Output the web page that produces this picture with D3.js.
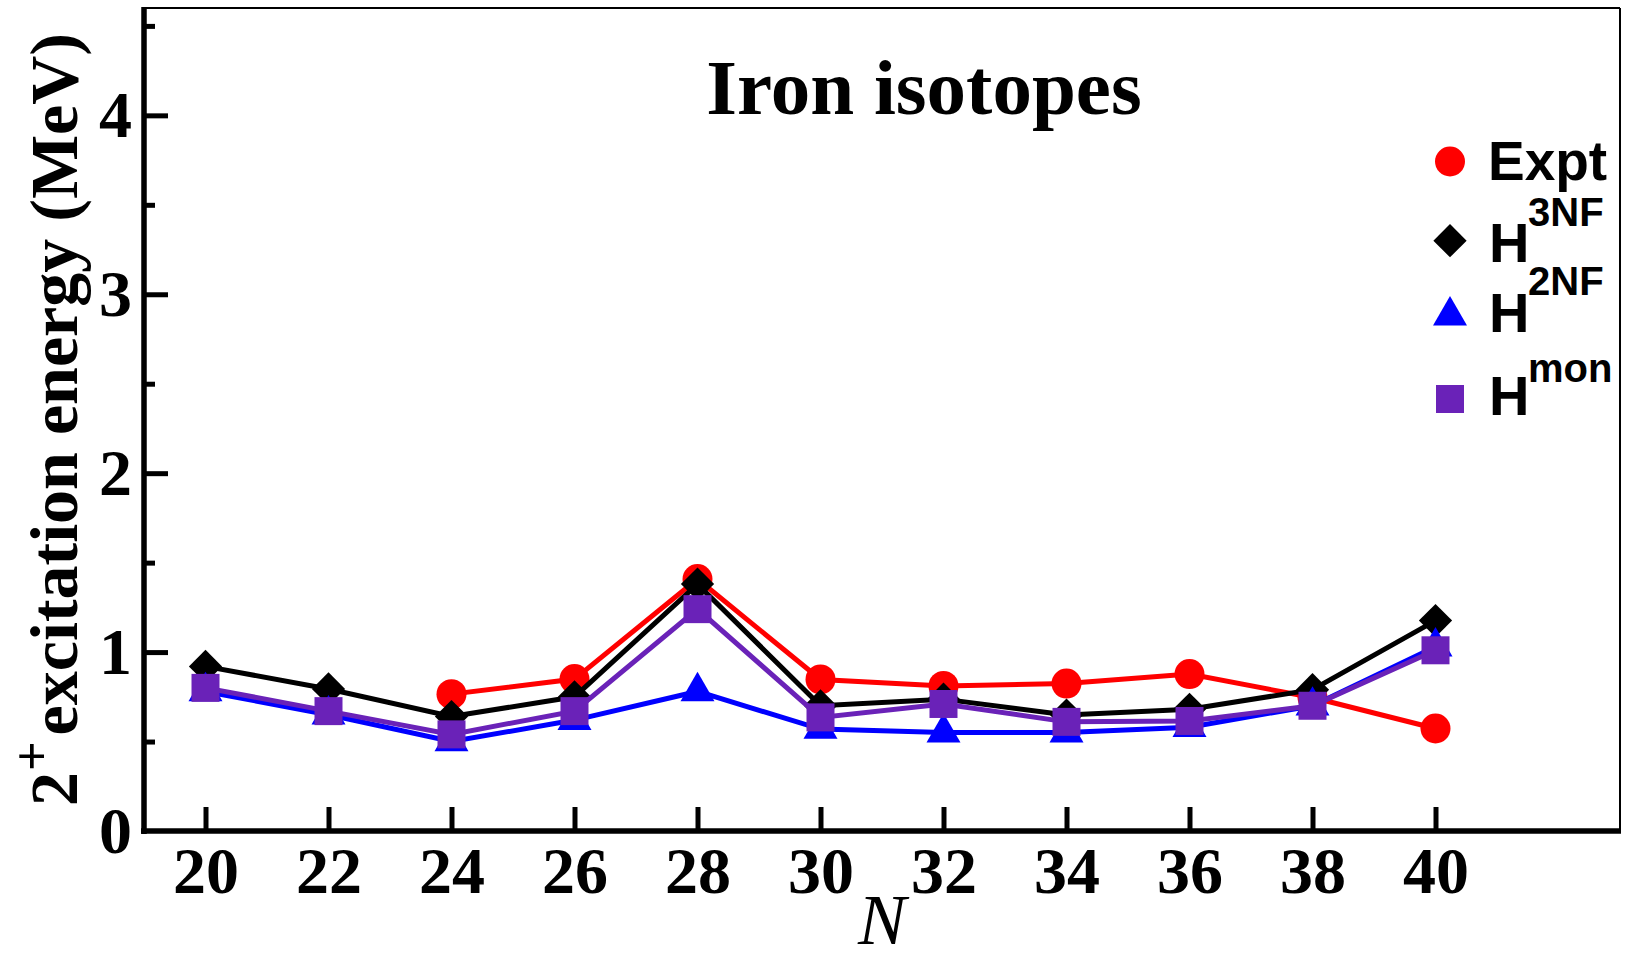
<!DOCTYPE html>
<html>
<head>
<meta charset="utf-8">
<script src="https://cdn.jsdelivr.net/npm/d3@7"></script>
<style>
  html, body { margin: 0; padding: 0; background: #fff; }
  svg { display: block; }
  .serif { font-family: "Liberation Serif", "Times New Roman", serif; font-weight: bold; }
  .sans { font-family: "Liberation Sans", Arial, sans-serif; font-weight: bold; }
</style>
</head>
<body>
<svg id="chart" width="1632" height="959"></svg>
<script>
// ---- data ----
const neutrons = [20, 22, 24, 26, 28, 30, 32, 34, 36, 38, 40];
const exptN    = [24, 26, 28, 30, 32, 34, 36, 38, 40];
const expt     = [0.765, 0.849, 1.408, 0.847, 0.811, 0.824, 0.877, 0.746, 0.573];
const h3nf     = [0.92, 0.794, 0.64, 0.75, 1.38, 0.70, 0.737, 0.648, 0.68, 0.79, 1.176];
const h2nf     = [0.78, 0.65, 0.50, 0.62, 0.78, 0.57, 0.55, 0.55, 0.58, 0.70, 1.03];
const hmon     = [0.80, 0.67, 0.54, 0.67, 1.24, 0.635, 0.71, 0.61, 0.615, 0.70, 1.01];
const xTicks   = [20, 22, 24, 26, 28, 30, 32, 34, 36, 38, 40];
const yMajor   = [0, 1, 2, 3, 4];
const yMinor   = [0.5, 1.5, 2.5, 3.5, 4.5];
const titleText = "Iron isotopes";

// ---- layout ----
const svg = d3.select("#chart");
const L = 144, R = 1620, T = 8, B = 831;
const x = d3.scaleLinear().domain([19, 43]).range([L, R]);
const y = d3.scaleLinear().domain([0, 4.6]).range([B, T]);

svg.append("rect").attr("width", 1632).attr("height", 959).attr("fill", "#fff");

// ---- series ----
const series = [
  { name: "Expt", xs: exptN, ys: expt, color: "#ff0000", shape: "circle" },
  { name: "3NF",  xs: neutrons, ys: h3nf, color: "#000000", shape: "diamond" },
  { name: "2NF",  xs: neutrons, ys: h2nf, color: "#0000ff", shape: "triangle" },
  { name: "mon",  xs: neutrons, ys: hmon, color: "#6a22b8", shape: "square" }
];
const symbols = {
  circle:   d3.symbol().type(d3.symbolCircle).size(Math.PI * 15 * 15),
  diamond:  d3.symbol().type(d3.symbolSquare).size(23.5 * 23.5),
  triangle: d3.symbol().type(d3.symbolTriangle).size(500),
  square:   d3.symbol().type(d3.symbolSquare).size(28 * 28)
};
const line = d3.line().x(d => x(d[0])).y(d => y(d[1]));

const plot = svg.append("g");
series.forEach(s => {
  const pts = s.xs.map((n, i) => [n, s.ys[i]]);
  const g = plot.append("g");
  g.append("path").attr("d", line(pts)).attr("fill", "none")
    .attr("stroke", s.color).attr("stroke-width", 5).attr("stroke-linejoin", "miter");
  g.selectAll("path.m").data(pts).join("path").attr("class", "m")
    .attr("d", symbols[s.shape]())
    .attr("transform", d => `translate(${x(d[0])},${y(d[1])})` + (s.shape === "diamond" ? " rotate(45)" : ""))
    .attr("fill", s.color);
});

// ---- axes ----
const xAxis = d3.axisBottom(x).tickValues(xTicks).tickFormat(d3.format("d"))
  .tickSizeInner(-24).tickSizeOuter(0).tickPadding(15);
const gx = svg.append("g").attr("transform", `translate(0,${B})`).call(xAxis);
gx.select(".domain").remove();
gx.selectAll(".tick line").attr("stroke", "#000").attr("stroke-width", 5);
gx.selectAll(".tick text").attr("class", "serif").attr("font-size", 66).attr("fill", "#000");

const yAxis = d3.axisLeft(y).tickValues(yMajor).tickFormat(d3.format("d"))
  .tickSizeInner(-24).tickSizeOuter(0).tickPadding(12);
const gy = svg.append("g").attr("transform", `translate(${L},0)`).call(yAxis);
gy.select(".domain").remove();
gy.selectAll(".tick line").attr("stroke", "#000").attr("stroke-width", 5)
  .filter(d => d === 0).remove();
gy.selectAll(".tick text").attr("class", "serif").attr("font-size", 66).attr("fill", "#000");

const yAxisMinor = d3.axisLeft(y).tickValues(yMinor).tickFormat("").tickSizeInner(-11).tickSizeOuter(0);
const gym = svg.append("g").attr("transform", `translate(${L},0)`).call(yAxisMinor);
gym.select(".domain").remove();
gym.selectAll(".tick line").attr("stroke", "#000").attr("stroke-width", 5);

// frame
svg.append("line").attr("x1", L).attr("x2", R).attr("y1", T).attr("y2", T).attr("stroke", "#000").attr("stroke-width", 2);
svg.append("line").attr("x1", R).attr("x2", R).attr("y1", T).attr("y2", B).attr("stroke", "#000").attr("stroke-width", 2);
svg.append("line").attr("x1", L).attr("x2", L).attr("y1", T - 1).attr("y2", B + 3).attr("stroke", "#000").attr("stroke-width", 5.5);
svg.append("line").attr("x1", L - 3).attr("x2", R + 1).attr("y1", B).attr("y2", B).attr("stroke", "#000").attr("stroke-width", 5.5);

// ---- titles ----
svg.append("text").attr("class", "serif").attr("x", 924).attr("y", 114)
  .attr("text-anchor", "middle").attr("font-size", 79).text(titleText);

svg.append("text").attr("x", (L + R) / 2).attr("y", 944).attr("text-anchor", "middle")
  .attr("font-family", "Liberation Serif, Times New Roman, serif").attr("font-style", "italic")
  .attr("font-size", 72).text("N");

const ylab = svg.append("text").attr("class", "serif").attr("font-size", 68)
  .attr("text-anchor", "middle")
  .attr("transform", `translate(77,${(T + B) / 2}) rotate(-90)`);
ylab.append("tspan").text("2");
ylab.append("tspan").attr("font-size", 52).attr("dy", -28).attr("dx", 1).text("+");
ylab.append("tspan").attr("dy", 28).attr("dx", 6).text("excitation energy (MeV)");

// ---- legend ----
const legend = [
  { s: series[0], cy: 161.5, base: 180, sup: null, label: "Expt" },
  { s: series[1], cy: 240.7, base: 261.7, supBase: 226, sup: "3NF" },
  { s: series[2], cy: 315.6, base: 331.7, supBase: 295, sup: "2NF" },
  { s: series[3], cy: 399, base: 415, supBase: 381.7, sup: "mon" }
];
const lg = svg.append("g");
legend.forEach(e => {
  lg.append("path").attr("d", symbols[e.s.shape]())
    .attr("transform", `translate(1450,${e.cy})` + (e.s.shape === "diamond" ? " rotate(45)" : ""))
    .attr("fill", e.s.color);
  if (!e.sup) {
    lg.append("text").attr("class", "sans").attr("x", 1488).attr("y", e.base)
      .attr("font-size", 55).text(e.label);
  } else {
    lg.append("text").attr("class", "sans").attr("x", 1489).attr("y", e.base)
      .attr("font-size", 56).text("H");
    lg.append("text").attr("class", "sans").attr("x", 1528).attr("y", e.supBase)
      .attr("font-size", 40).text(e.sup);
  }
});
</script>
</body>
</html>
